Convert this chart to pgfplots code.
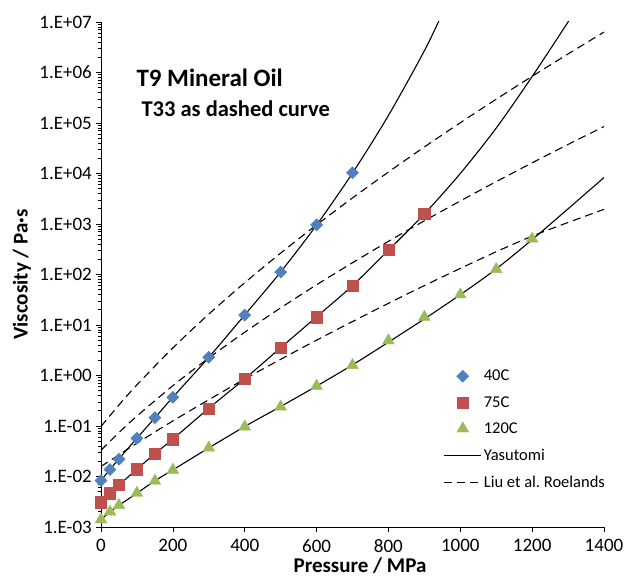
\documentclass[border=0pt]{standalone}
\usepackage{fontspec}
\setmainfont{Carlito}
\usepackage{pgfplots}
\pgfplotsset{compat=1.18}
\definecolor{c40}{HTML}{4F81BD}
\definecolor{c75}{HTML}{C0504D}
\definecolor{c120}{HTML}{9BBB59}

\begin{document}
\begin{tikzpicture}
\useasboundingbox (-101pt,-54pt) rectangle (529pt,527pt);
\begin{axis}[
  at={(0pt,0pt)}, anchor=south west,
  scale only axis, width=503pt, height=505pt,
  ymode=log, xmin=0, xmax=1400, ymin=1e-3, ymax=1e7,
  axis lines=left, axis line style={-, black, line width=0.8pt},
  xtick={0,200,400,600,800,1000,1200,1400},
  xticklabels={0,200,400,600,800,1000,1200,1400},
  ytick={1e-3,1e-2,1e-1,1,1e1,1e2,1e3,1e4,1e5,1e6,1e7},
  yticklabels={1.E-03,1.E-02,1.E-01,1.E+00,1.E+01,1.E+02,1.E+03,1.E+04,1.E+05,1.E+06,1.E+07},
  tick align=outside, tick style={black, line width=0.7pt},
  major tick length=5pt, minor tick length=3pt,
  ticklabel style={font=\fontsize{19}{22}\selectfont},
  yticklabel style={inner sep=0pt, xshift=-4pt},
  xticklabel style={inner sep=0pt, anchor=north, yshift=-7pt},
  xlabel={\bfseries Pressure / MPa},
  ylabel={\bfseries Viscosity / Pa·s},
  label style={font=\fontsize{21}{24}\selectfont},
  xlabel style={at={(axis description cs:0.515,-0.091)}, anchor=base},
  ylabel style={at={(axis description cs:-0.157,0.5)}, anchor=center},
  clip mode=individual,
  legend style={draw=none, fill=none, at={(0.681,0.315)}, anchor=north west,
    font=\fontsize{16.5}{19}\selectfont, row sep=10pt, inner sep=0pt},
  legend cell align=left,
  legend image code/.code={\draw[mark repeat=2,mark phase=2] plot coordinates {(0pt,0pt) (18.5pt,0pt) (37pt,0pt)};},
  solidc/.style={black, line width=1.1pt, smooth, no marks},
  dashc/.style={black, line width=1.1pt, smooth, no marks, dash pattern=on 8pt off 5pt},
]
\addlegendimage{only marks, mark=square*, mark options={rotate=45}, mark size=4.3pt, c40}
\addlegendimage{only marks, mark=square*, mark size=5.7pt, c75}
\addlegendimage{only marks, mark=triangle*, mark size=6.8pt, c120}
\addlegendimage{black, line width=1.1pt}
\addlegendimage{black, line width=1.1pt, dash pattern=on 8pt off 5pt}

% Liu et al. Roelands (dashed)
\addplot[dashc, forget plot] coordinates {(0,0.0977) (50,0.261) (100,0.653) (200,3.52) (300,16.4) (400,68.7) (500,265) (600,959) (700,3281) (800,10690) (900,33500) (1000,101200) (1100,295800) (1200,841000) (1300,2328000) (1400,6310000)};
\addplot[dashc, forget plot] coordinates {(0,0.0331) (50,0.0743) (100,0.157) (200,0.627) (300,2.22) (400,7.19) (500,21.8) (600,62.5) (700,171) (800,453) (900,1156) (1000,2858) (1100,6902) (1200,16250) (1300,37580) (1400,85110)};
\addplot[dashc, forget plot] coordinates {(0,0.0158) (50,0.0269) (100,0.0457) (200,0.126) (300,0.331) (400,0.851) (500,2.09) (600,5.01) (700,11.7) (800,26.9) (900,60.3) (1000,132) (1100,282) (1200,575) (1300,1072) (1400,1950)};

% Yasutomi (solid)
\addplot[solidc, forget plot] coordinates {(0,0.00832) (25,0.0138) (50,0.0224) (100,0.0575) (150,0.145) (200,0.372) (300,2.29) (400,15.8) (500,112) (600,955) (700,10200) (800,141000) (900,2690000) (950,14800000)};
\addplot[solidc, forget plot] coordinates {(0,0.00309) (25,0.00468) (50,0.00676) (100,0.0140) (150,0.0282) (200,0.0550) (300,0.224) (400,0.859) (500,3.55) (600,14.5) (700,60.3) (800,302) (900,1585) (1000,10000) (1100,79400) (1200,832000) (1300,10000000) (1320,16600000)};
\addplot[solidc, forget plot] coordinates {(0,0.00140) (25,0.00200) (50,0.00269) (100,0.00468) (150,0.00820) (200,0.0135) (300,0.0368) (400,0.0977) (500,0.243) (600,0.617) (700,1.62) (800,4.57) (900,13.2) (1000,39.8) (1100,129) (1200,490) (1300,2000) (1400,8318)};

% measured points
\addplot[only marks, mark=square*, mark options={rotate=45}, mark size=4.3pt, c40, forget plot] coordinates {(0,0.0083) (25,0.0137) (50,0.022) (100,0.057) (150,0.146) (200,0.37) (300,2.3) (400,15.7) (500,112) (600,960) (700,10300)};
\addplot[only marks, mark=square*, mark size=5.7pt, c75, forget plot] coordinates {(0,0.0031) (25,0.0047) (50,0.0068) (100,0.014) (150,0.028) (200,0.055) (300,0.22) (400,0.86) (500,3.6) (600,14.4) (700,60) (800,310) (900,1600)};
\addplot[only marks, mark=triangle*, mark size=6.8pt, c120, forget plot] coordinates {(0,0.0014) (25,0.0020) (50,0.0027) (100,0.0047) (150,0.0082) (200,0.0135) (300,0.037) (400,0.097) (500,0.24) (600,0.62) (700,1.6) (800,4.9) (900,14.4) (1000,40) (1100,127) (1200,510)};

\legend{40C,75C,120C,Yasutomi,Liu et al.\ Roelands}

\node[anchor=base west, font=\fontsize{25}{30}\selectfont\bfseries] at (rel axis cs:0.0636,0.873) {T9 Mineral Oil};
\node[anchor=base west, font=\fontsize{22.5}{27}\selectfont\bfseries] at (rel axis cs:0.0736,0.8125) {T33 as dashed curve};
\end{axis}
\end{tikzpicture}
\end{document}
